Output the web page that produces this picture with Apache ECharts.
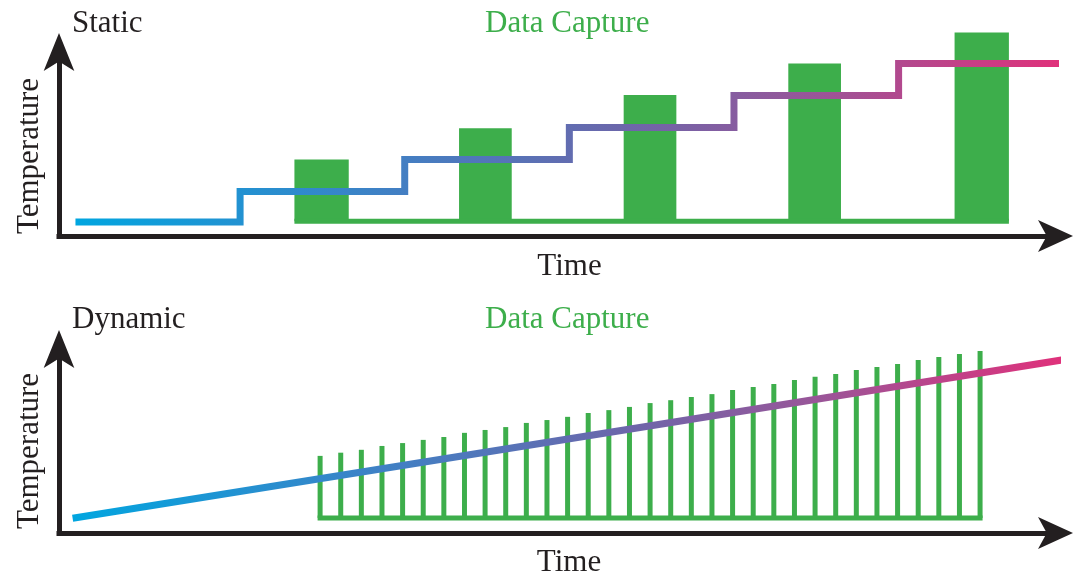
<!DOCTYPE html>
<html><head><meta charset="utf-8">
<script src="https://cdn.jsdelivr.net/npm/echarts@6/dist/echarts.min.js"></script>
<style>html,body{margin:0;padding:0;background:#fff}#c{width:1073px;height:575px}</style>
</head><body><div id="c"></div>
<script>
// ---------- Static panel data ----------
const staticTitle = 'Static';
const captureTitle = 'Data Capture';
const xName = 'Time';
const yName = 'Temperature';
const staticStepTimes = [1, 11, 21, 31, 41, 51, 61];
const staticStepTemps = [20, 29.5, 39.5, 49.5, 59.5, 69.5, 69.5];
const staticCaptureStart = [14.3, 24.3, 34.3, 44.3, 54.4];
const staticCaptureEnd = [17.6, 27.5, 37.5, 47.5, 57.7];
const staticCaptureTemps = [39.5, 49.3, 59.7, 69.5, 79.2];
const staticCaptureBase = 20.2;

// ---------- Dynamic panel data ----------
const dynamicTitle = 'Dynamic';
const dynamicLineTimes = [1, 49.2];
const dynamicLineTemps = [20, 69.7];
const dynamicCaptureTimes = [13, 14, 15, 16, 17, 18, 19, 20, 21, 22, 23, 24, 25, 26, 27, 28, 29,
  30, 31, 32, 33, 34, 35, 36, 37, 38, 39, 40, 41, 42, 43, 44, 45];
const dynamicCaptureTemps = [39.5, 40.5, 41.4, 42.6, 43.5, 44.5, 45.4, 46.7, 47.6, 48.5, 49.8, 50.7,
  51.7, 52.9, 53.8, 54.8, 56.0, 56.9, 57.9, 58.8, 60.1, 61.0, 62.0, 63.2, 64.2, 65.1, 66.3, 67.3,
  68.2, 69.5, 70.4, 71.3, 72.3];
const dynamicCaptureBase = 20.1;

// ---------- styles ----------
const GREEN = '#3dae4b';
const INK = '#231f20';
const FONT = 'Liberation Serif';
const TICK_W = 5;
function grad() {
  return new echarts.graphic.LinearGradient(0, 0, 1, 0, [
    {offset: 0, color: '#00a6e0'},
    {offset: 0.3, color: '#3d82c6'},
    {offset: 0.55, color: '#6b67ab'},
    {offset: 0.75, color: '#9a5598'},
    {offset: 1, color: '#e2307a'}
  ]);
}
const textBase = {fontFamily: FONT, fontSize: 31, fontWeight: 'normal', color: INK};

function axisLine(size, offset) {
  return {show: true, onZero: false, symbol: ['none', 'arrow'], symbolSize: size, symbolOffset: [0, offset],
    lineStyle: {color: INK, width: 5, cap: 'square'}};
}
function xAxis(grid, min, max, gap, pad, off) {
  return {gridIndex: grid, type: 'value', min: min, max: max,
    axisLine: axisLine([24, 35], off), axisTick: {show: false}, axisLabel: {show: false}, splitLine: {show: false},
    name: xName, nameLocation: 'middle', nameGap: gap,
    nameTextStyle: Object.assign({}, textBase, {padding: pad})};
}
function yAxis(grid, min, max, gap, pad, off) {
  return {gridIndex: grid, type: 'value', min: min, max: max,
    axisLine: axisLine([23, 38], off), axisTick: {show: false}, axisLabel: {show: false}, splitLine: {show: false},
    name: yName, nameLocation: 'middle', nameGap: gap,
    nameTextStyle: Object.assign({}, textBase, {padding: pad})};
}

const chart = echarts.init(document.getElementById('c'), null, {renderer: 'canvas'});
chart.setOption({
  animation: false,
  backgroundColor: '#ffffff',
  title: [
    {text: staticTitle, left: 72, top: 8, padding: 0, textStyle: textBase},
    {text: captureTitle, left: 485, top: 8, padding: 0, textStyle: Object.assign({}, textBase, {color: GREEN})},
    {text: dynamicTitle, left: 72, top: 304, padding: 0, textStyle: textBase},
    {text: captureTitle, left: 485, top: 304, padding: 0, textStyle: Object.assign({}, textBase, {color: GREEN})}
  ],
  grid: [
    {left: 59, right: 18, top: 52, bottom: 339, outerBoundsMode: 'none', containLabel: false},
    {left: 59, right: 16, top: 349, bottom: 42, outerBoundsMode: 'none', containLabel: false}
  ],
  xAxis: [
    xAxis(0, 0, 60.5, 15, [0, 0, 0, 25], 18),
    xAxis(1, 0.34, 48.73, 14, [0, 0, 0, 22], 16)
  ],
  yAxis: [
    yAxis(0, 15.6, 73.1, 14, [0, 24, 0, 0], 19),
    yAxis(1, 15.4, 72.9, 14, [0, 20, 0, 0], 19)
  ],
  series: [
    {
      type: 'line', xAxisIndex: 0, yAxisIndex: 0, step: 'end', clip: false, symbol: 'none',
      data: staticStepTimes.map((t, i) => [t, staticStepTemps[i]]),
      lineStyle: {width: 7, color: grad(), join: 'miter'}
    },
    {
      type: 'line', xAxisIndex: 0, yAxisIndex: 0, clip: false, symbol: 'none',
      data: [[staticCaptureStart[0], staticCaptureBase],
             [staticCaptureEnd[staticCaptureEnd.length - 1], staticCaptureBase]],
      lineStyle: {width: 5, color: GREEN}
    },
    {
      type: 'custom', xAxisIndex: 0, yAxisIndex: 0, clip: false,
      data: staticCaptureStart.map((s, i) => [s, staticCaptureEnd[i], staticCaptureTemps[i]]),
      encode: {x: [0, 1], y: 2},
      renderItem: function (params, api) {
        const p0 = api.coord([api.value(0), api.value(2)]);
        const p1 = api.coord([api.value(1), staticCaptureBase]);
        return {type: 'rect', shape: {x: p0[0], y: p0[1], width: p1[0] - p0[0], height: p1[1] - p0[1]},
          style: {fill: GREEN}};
      }
    },
    {
      type: 'line', xAxisIndex: 1, yAxisIndex: 1, clip: false, symbol: 'none',
      data: dynamicLineTimes.map((t, i) => [t, dynamicLineTemps[i]]),
      lineStyle: {width: 7, color: grad()}
    },
    {
      type: 'line', xAxisIndex: 1, yAxisIndex: 1, clip: false, symbol: 'none',
      data: [[dynamicCaptureTimes[0], dynamicCaptureBase],
             [dynamicCaptureTimes[dynamicCaptureTimes.length - 1], dynamicCaptureBase]],
      lineStyle: {width: 5, color: GREEN, cap: 'square'}
    },
    {
      type: 'custom', xAxisIndex: 1, yAxisIndex: 1, clip: false,
      data: dynamicCaptureTimes.map((t, i) => [t, dynamicCaptureTemps[i]]),
      encode: {x: 0, y: 1},
      renderItem: function (params, api) {
        const top = api.coord([api.value(0), api.value(1)]);
        const bot = api.coord([api.value(0), dynamicCaptureBase]);
        return {type: 'rect',
          shape: {x: top[0] - TICK_W / 2, y: top[1], width: TICK_W, height: bot[1] - top[1]},
          style: {fill: GREEN}};
      }
    }
  ]
});
</script></body></html>
